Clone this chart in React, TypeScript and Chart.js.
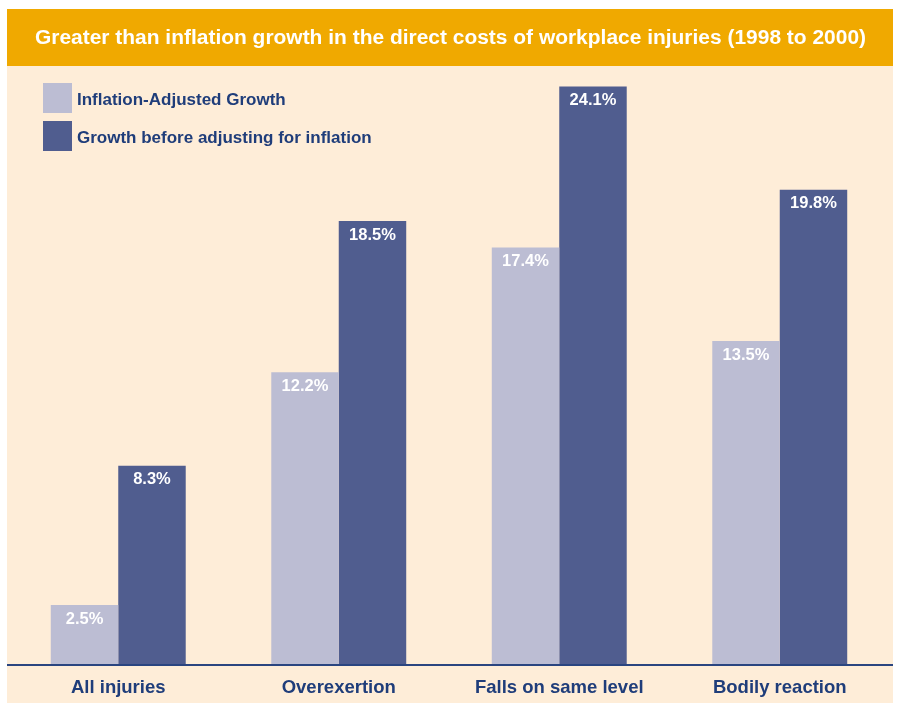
import React, { useEffect, useRef } from "react";
import { Chart, registerables } from "chart.js";

Chart.register(...registerables);

const titleText = "Greater than inflation growth in the direct costs of workplace injuries (1998 to 2000)";
const categories = ["All injuries", "Overexertion", "Falls on same level", "Bodily reaction"];
const seriesLabels = ["Inflation-Adjusted Growth", "Growth before adjusting for inflation"];
const inflationAdjusted = [2.5, 12.2, 17.4, 13.5];
const beforeInflation = [8.3, 18.5, 24.1, 19.8];

const LIGHT = "#BCBDD3";
const DARK = "#505D8F";
const NAVY = "#1F3D7A";
const CREAM = "#FEEDD8";
const ORANGE = "#F0A900";
const FONT = "'Liberation Sans', Arial, Helvetica, sans-serif";

const decorPlugin = {
  id: "decor",
  beforeDraw(chart: any) {
    const ctx = chart.ctx;
    const W = chart.width;
    const H = chart.height;
    ctx.save();
    ctx.fillStyle = "#FFFFFF";
    ctx.fillRect(0, 0, W, H);
    ctx.fillStyle = CREAM;
    ctx.fillRect(7, 9, W - 12, H - 9);
    ctx.fillStyle = ORANGE;
    ctx.fillRect(7, 9, W - 12, 57);
    // title
    ctx.font = `bold 20px ${FONT}`;
    ctx.fillStyle = "#FFFFFF";
    ctx.textBaseline = "middle";
    ctx.textAlign = "left";
    const tw = ctx.measureText(titleText).width;
    const target = 831;
    const sx = target / tw;
    ctx.translate(35, 38);
    ctx.scale(sx, 1);
    ctx.fillText(titleText, 0, 0);
    ctx.restore();

    // legend
    ctx.save();
    const colors = [LIGHT, DARK];
    ctx.font = `bold 17px ${FONT}`;
    ctx.textBaseline = "middle";
    ctx.textAlign = "left";
    seriesLabels.forEach((lbl, i) => {
      const y = 83 + i * 38;
      ctx.fillStyle = colors[i];
      ctx.fillRect(43, y, 29, 30);
      ctx.fillStyle = NAVY;
      ctx.fillText(lbl, 77, y + 17);
    });
    ctx.restore();
  },
  afterDatasetsDraw(chart: any) {
    const ctx = chart.ctx;
    ctx.save();
    ctx.font = `bold 16.5px ${FONT}`;
    ctx.fillStyle = "#FFFFFF";
    ctx.textAlign = "center";
    ctx.textBaseline = "middle";
    chart.data.datasets.forEach((ds: any, di: number) => {
      const meta = chart.getDatasetMeta(di);
      meta.data.forEach((el: any, i: number) => {
        const v = ds.data[i];
        ctx.fillText(v.toFixed(1) + "%", el.x, el.y + 14);
      });
    });
    // axis line
    const y0 = chart.scales.y.getPixelForValue(0);
    ctx.strokeStyle = "#2A4580";
    ctx.lineWidth = 2;
    ctx.beginPath();
    ctx.moveTo(7, y0);
    ctx.lineTo(chart.width - 5, y0);
    ctx.stroke();
    ctx.restore();
  },
};

export default function App() {
  const ref = useRef<HTMLCanvasElement | null>(null);
  useEffect(() => {
    if (!ref.current) return;
    const chart = new Chart(ref.current, {
      type: "bar",
      data: {
        labels: categories,
        datasets: [
          {
            label: seriesLabels[0],
            data: inflationAdjusted,
            backgroundColor: LIGHT,
            barPercentage: 1,
            categoryPercentage: 0.612,
          },
          {
            label: seriesLabels[1],
            data: beforeInflation,
            backgroundColor: DARK,
            barPercentage: 1,
            categoryPercentage: 0.612,
          },
        ],
      },
      options: {
        animation: false,
        responsive: false,
        devicePixelRatio: 1,
        layout: { padding: { left: 8, right: 8, top: 65, bottom: 0 } },
        plugins: {
          legend: { display: false },
          title: { display: false },
          tooltip: { enabled: false },
        },
        scales: {
          x: {
            grid: { display: false },
            border: { display: false },
            ticks: {
              color: NAVY,
              font: { family: FONT, size: 18.5, weight: "bold" },
              padding: 4,
              maxRotation: 0,
            },
            afterFit(scale: any) {
              scale.height = 38;
            },
          },
          y: {
            display: false,
            min: 0,
            max: 25,
          },
        },
      },
      plugins: [decorPlugin],
    } as any);
    return () => chart.destroy();
  }, []);
  return (
    <div style={{ position: "fixed", left: 0, top: 0, width: 898, height: 703 }}>
      <canvas ref={ref} width={898} height={703} style={{ width: 898, height: 703 }} />
    </div>
  );
}
